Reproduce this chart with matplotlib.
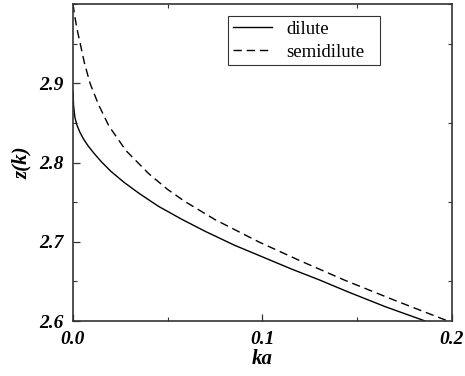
import matplotlib
matplotlib.use("Agg")
import matplotlib.pyplot as plt
from matplotlib.ticker import MultipleLocator

ka_dilute = [0, 0.0003, 0.001, 0.002, 0.0035, 0.0055, 0.008, 0.011, 0.015, 0.020, 0.027,
             0.035, 0.045, 0.057, 0.070, 0.085, 0.100, 0.115, 0.130, 0.145, 0.165, 0.186]
z_dilute = [2.89, 2.872, 2.857, 2.848, 2.839, 2.830, 2.821, 2.812, 2.801, 2.789, 2.775,
            2.761, 2.745, 2.729, 2.713, 2.696, 2.681, 2.666, 2.652, 2.637, 2.618, 2.600]

ka_semi = [0, 0.001, 0.002, 0.004, 0.006, 0.009, 0.0135, 0.019, 0.028, 0.040, 0.050,
           0.059, 0.075, 0.098, 0.120, 0.143, 0.170, 0.198]
z_semi = [3.0, 2.984, 2.970, 2.948, 2.926, 2.900, 2.873, 2.846, 2.815, 2.786, 2.766,
          2.751, 2.728, 2.700, 2.676, 2.652, 2.626, 2.600]

x_ticks = [0.0, 0.1, 0.2]
y_ticks = [2.6, 2.7, 2.8, 2.9]

plt.rcParams['font.family'] = ['Liberation Serif', 'DejaVu Serif']

fig = plt.figure(figsize=(4.65, 3.76), dpi=100, facecolor='white')
ax = fig.add_axes([0.157, 0.146, 0.815, 0.843])

ax.plot(ka_dilute, z_dilute, color='black', lw=1.0, label='dilute')
ax.plot(ka_semi, z_semi, color='black', lw=1.0, dashes=[6, 3.5], label='semidilute')

ax.set_xlim(0, 0.2)
ax.set_ylim(2.6, 3.0)
ax.set_xticks(x_ticks)
ax.set_xticklabels([f"{t:.1f}" for t in x_ticks])
ax.set_yticks(y_ticks)
ax.set_yticklabels([f"{t:.1f}" for t in y_ticks])
ax.xaxis.set_minor_locator(MultipleLocator(0.05))
ax.yaxis.set_minor_locator(MultipleLocator(0.05))

ax.tick_params(which='both', direction='in', top=True, right=True, color='#333333')
ax.tick_params(which='major', length=5, width=0.9, labelsize=14, pad=7)
ax.tick_params(which='minor', length=3, width=0.8)
ax.tick_params(axis='y', which='major', right=False)
ax.tick_params(axis='x', which='major', top=False)
for lab in ax.get_xticklabels() + ax.get_yticklabels():
    lab.set_style('italic')
    lab.set_weight('bold')

for s in ax.spines.values():
    s.set_color('#333333')
    s.set_linewidth(1.2)

ax.set_xlabel('ka', style='italic', weight='bold', fontsize=15, labelpad=1)
ax.set_ylabel('z(k)', style='italic', weight='bold', fontsize=15, labelpad=5)

# box stretched to the reference width, entries kept on the left
leg = ax.legend(loc='upper left', bbox_to_anchor=(0.409, 0.5, 0.401, 0.462), mode='expand',
                fontsize=13.5, frameon=True, fancybox=False, borderaxespad=0,
                handlelength=2.1, handletextpad=0.75, borderpad=0.25, labelspacing=0.3)
leg.get_frame().set_edgecolor('black')
leg.get_frame().set_linewidth(0.8)

plt.savefig("out.png", dpi=100)
